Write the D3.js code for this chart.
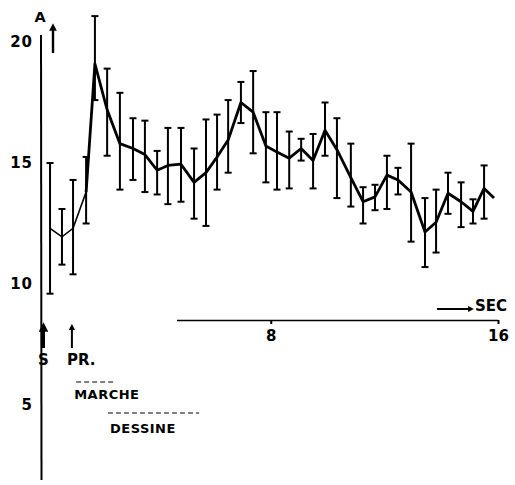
<!DOCTYPE html>
<html>
<head>
<meta charset="utf-8">
<script src="https://cdn.jsdelivr.net/npm/d3@7"></script>
<style>
  html, body { margin: 0; padding: 0; background: #fff; }
  svg { display: block; }
  text { font-family: "DejaVu Sans", sans-serif; font-weight: bold; fill: #000; }
</style>
</head>
<body>
<svg id="chart" width="515" height="485"></svg>
<script>
// ---- data ----
const times = [0.23,0.65,1.04,1.50,1.81,2.24,2.69,3.15,3.57,4.00,4.38,4.84,5.30,5.72,6.11,6.50,6.95,7.38,7.83,8.22,8.65,9.07,9.49,9.91,10.33,10.82,11.25,11.67,12.09,12.48,12.94,13.43,13.82,14.24,14.70,15.12,15.51,15.86];
const means = [12.3,11.95,12.3,13.8,19.1,17.2,15.8,15.6,15.35,14.7,14.9,14.95,14.2,14.6,15.25,15.95,17.5,17.1,15.7,15.45,15.2,15.6,15.1,16.35,15.55,14.4,13.4,13.6,14.5,14.3,13.8,12.15,12.55,13.75,13.4,13.0,13.95,13.55];
const upper = [15.0,13.1,14.3,15.25,21.07,18.9,17.9,16.85,16.75,15.5,16.45,16.45,15.6,16.8,17.0,17.6,18.35,18.8,17.1,17.1,16.3,16.0,16.2,17.5,16.85,15.8,14.0,14.1,15.3,14.8,15.8,13.55,13.9,14.6,14.2,13.5,14.9,null];
const lower = [9.6,10.8,10.4,12.5,17.6,15.3,13.9,14.3,13.8,13.7,13.3,13.4,12.7,12.4,13.9,14.6,16.65,15.4,14.2,13.9,13.95,15.1,13.95,15.3,13.55,13.2,12.5,13.05,13.1,13.7,11.75,10.7,11.3,12.9,12.35,12.5,12.7,null];
const yTicks = [5, 10, 15, 20];
const xTicks = [8, 16];
const eventTimes = [0, 1];          // S, PR.
const eventLabels = ["S", "PR."];
const phaseLabels = ["MARCHE", "DESSINE"];
const phaseStart = [1.15, 2.27];
const phaseEnd = [2.55, 5.48];

// ---- scales ----
const svg = d3.select("#chart");
const x = d3.scaleLinear().domain([0, 16]).range([43.5, 498]);
const y = d3.scaleLinear().domain([5, 20]).range([405, 42]);

// arrow marker
const defs = svg.append("defs");
defs.append("marker").attr("id", "ah").attr("viewBox", "0 0 10 10")
  .attr("refX", 5).attr("refY", 5).attr("markerWidth", 3.2).attr("markerHeight", 3.2)
  .attr("orient", "auto")
  .append("path").attr("d", "M0,0 L10,5 L0,10 Z").attr("fill", "#000");

// ---- y axis ----
svg.append("line").attr("x1", 41).attr("x2", 41.5).attr("y1", 35).attr("y2", 480)
  .attr("stroke", "#000").attr("stroke-width", 2);
const yAxis = svg.append("g").attr("transform", "translate(41,0)")
  .call(d3.axisLeft(y).tickValues(yTicks).tickSize(0).tickPadding(8).tickFormat(d3.format("d")));
yAxis.select(".domain").remove();
yAxis.selectAll("text").style("font-size", "15px").style("letter-spacing", "1px")
  .style("font-family", "DejaVu Sans, sans-serif").style("font-weight", "bold");

svg.append("text").attr("x", 40).attr("y", 22).attr("text-anchor", "middle")
  .style("font-size", "14.5px").text("A");
svg.append("line").attr("x1", 53).attr("x2", 53).attr("y1", 53).attr("y2", 27)
  .attr("stroke", "#000").attr("stroke-width", 2.4).attr("marker-end", "url(#ah)");

// ---- x axis ----
const xAxis = svg.append("g").attr("transform", "translate(0,320)")
  .call(d3.axisBottom(x).tickValues(xTicks).tickSize(4).tickSizeOuter(0).tickPadding(6));
xAxis.select(".domain").attr("d", `M${x(4.7)},0.5H${x(16)}`).attr("stroke-width", 1.6);
xAxis.selectAll(".tick line").attr("stroke-width", 2);
xAxis.selectAll("text").style("font-size", "15px").style("font-family", "DejaVu Sans, sans-serif").style("font-weight", "bold");

svg.append("text").attr("x", 491).attr("y", 311).attr("text-anchor", "middle")
  .style("font-size", "15px").text("SEC");
svg.append("line").attr("x1", 437).attr("x2", 471).attr("y1", 309).attr("y2", 309)
  .attr("stroke", "#000").attr("stroke-width", 1.8).attr("marker-end", "url(#ah)");

// ---- event arrows ----
eventTimes.forEach((t, i) => {
  svg.append("line").attr("x1", x(t)).attr("x2", x(t)).attr("y1", 348).attr("y2", 327)
    .attr("stroke", "#000").attr("stroke-width", i === 0 ? 3 : 2).attr("marker-end", "url(#ah)");
});
svg.append("text").attr("x", x(0)).attr("y", 365).attr("text-anchor", "middle")
  .style("font-size", "15px").text(eventLabels[0]);
svg.append("text").attr("x", x(1) - 5).attr("y", 365)
  .style("font-size", "15px").text(eventLabels[1]);

// ---- phases ----
const phaseY = [382, 413];
const labelY = [399, 433];
phaseLabels.forEach((lab, i) => {
  svg.append("line").attr("x1", x(phaseStart[i])).attr("x2", x(phaseEnd[i]))
    .attr("y1", phaseY[i]).attr("y2", phaseY[i])
    .attr("stroke", "#000").attr("stroke-width", 1).attr("stroke-dasharray", "5,3");
  svg.append("text").attr("x", x(phaseStart[i]) + (i === 0 ? -2 : 2)).attr("y", labelY[i])
    .style("font-size", "13px").style("letter-spacing", "0.5px").text(lab);
});

// ---- error bars ----
const pts = times.map((t, i) => ({t, m: means[i], hi: upper[i], lo: lower[i]}));
const eb = svg.append("g").attr("stroke", "#000");
pts.filter(d => d.hi !== null).forEach(d => {
  const cx = x(d.t);
  eb.append("line").attr("x1", cx).attr("x2", cx).attr("y1", y(d.hi)).attr("y2", y(d.lo)).attr("stroke-width", 2);
  eb.append("line").attr("x1", cx - 3.5).attr("x2", cx + 3.5).attr("y1", y(d.hi)).attr("y2", y(d.hi)).attr("stroke-width", 2);
  eb.append("line").attr("x1", cx - 3.5).attr("x2", cx + 3.5).attr("y1", y(d.lo)).attr("y2", y(d.lo)).attr("stroke-width", 2);
});

// ---- mean line ----
const line = d3.line().x(d => x(d.t)).y(d => y(d.m));
svg.append("path").datum(pts.slice(0, 4)).attr("d", line)
  .attr("fill", "none").attr("stroke", "#000").attr("stroke-width", 1.6);
svg.append("path").datum(pts.slice(3)).attr("d", line)
  .attr("fill", "none").attr("stroke", "#000").attr("stroke-width", 2.8).attr("stroke-linejoin", "round");
</script>
</body>
</html>
